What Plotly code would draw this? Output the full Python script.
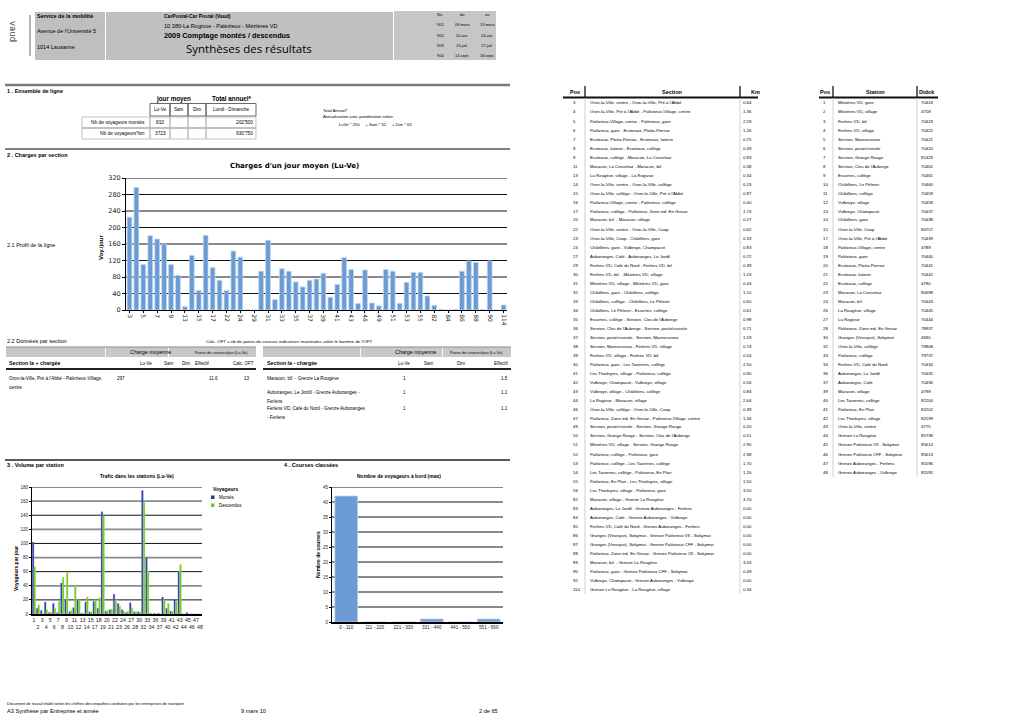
import plotly.graph_objects as go

W, H = 1020, 721
FONT = "Liberation Sans"

# ---------------- data ----------------
period_no = ["901", "902", "903", "904"]
period_from = ["09-mars", "20-avr.", "13-juil.", "14-sept."]
period_to = ["13-mars", "24-avr.", "17-juil.", "18-sept."]

section_pos = [3, 4, 5, 6, 7, 8, 9, 11, 13, 14, 15, 16, 17, 20, 22, 23, 24, 27, 29, 30,
               31, 32, 33, 34, 35, 36, 37, 38, 39, 40, 41, 42, 43, 44, 46, 47, 49, 50, 51, 52,
               53, 54, 55, 56, 82, 83, 84, 85, 86, 87, 88, 89, 90, 92, 114]
section_load = [225, 297, 110, 180, 172, 160, 110, 84, 8, 132, 47, 181, 103, 72, 47, 143, 128, 0, 0, 94,
                169, 25, 100, 94, 68, 56, 72, 75, 89, 31, 62, 127, 98, 16, 97, 17, 10, 98, 94, 16,
                67, 91, 91, 34, 11, 1, 0, 1, 94, 119, 115, 1, 119, 0, 12]
section_names = [
    "Oron-la-Ville, centre - Oron-la-Ville, Pré à l'Abbé",
    "Oron-la-Ville, Pré à l'Abbé - Palézieux-Village, centre",
    "Palézieux-Village, centre - Palézieux, gare",
    "Palézieux, gare - Ecoteaux, Platta-Pierraz",
    "Ecoteaux, Platta-Pierraz - Ecoteaux, laiterie",
    "Ecoteaux, laiterie - Ecoteaux, collège",
    "Ecoteaux, collège - Maracon, La Crosettaz",
    "Maracon, La Crosettaz - Maracon, bif.",
    "La Rougève, village - La Rogivue",
    "Oron-la-Ville, centre - Oron-la-Ville, collège",
    "Oron-la-Ville, collège - Oron-la-Ville, Pré à l'Abbé",
    "Palézieux-Village, centre - Palézieux, collège",
    "Palézieux, collège - Palézieux, Zone ind. En Grivaz",
    "Maracon, bif. - Maracon, village",
    "Oron-la-Ville, centre - Oron-la-Ville, Coop",
    "Oron-la-Ville, Coop - Châtillens, gare",
    "Châtillens, gare - Vulbroye, Champacot",
    "Auboranges, Café - Auboranges, Le Jordil",
    "Ferlens VD, Café du Nord - Ferlens VD, bif.",
    "Ferlens VD, bif. - Mézières VD, village",
    "Mézières VD, village - Mézières VD, gare",
    "Châtillens, gare - Châtillens, collège",
    "Châtillens, collège - Châtillens, Le Pèleret",
    "Châtillens, Le Pèleret - Essertes, collège",
    "Essertes, collège - Servion, Clos de l'Auberge",
    "Servion, Clos de l'Auberge - Servion, poste/croisée",
    "Servion, poste/croisée - Servion, Mannessivaz",
    "Servion, Mannessivaz - Ferlens VD, village",
    "Ferlens VD, village - Ferlens VD, bif.",
    "Palézieux, gare - Les Tavernes, collège",
    "Les Thioleyres, village - Palézieux, collège",
    "Vulbroye, Champacot - Vulbroye, village",
    "Vulbroye, village - Châtillens, collège",
    "La Rogivue - Maracon, village",
    "Oron-la-Ville, collège - Oron-la-Ville, Coop",
    "Palézieux, Zone ind. En Grivaz - Palézieux-Village, centre",
    "Servion, poste/croisée - Servion, Grange Rouge",
    "Servion, Grange Rouge - Servion, Clos de l'Auberge",
    "Mézières VD, village - Servion, Grange Rouge",
    "Palézieux, collège - Palézieux, gare",
    "Palézieux, collège - Les Tavernes, collège",
    "Les Tavernes, collège - Palézieux, En Plan",
    "Palézieux, En Plan - Les Thioleyres, village",
    "Les Thioleyres, village - Palézieux, gare",
    "Maracon, village - Grenze La Rougève",
    "Auboranges, Le Jordil - Grenze Auboranges - Ferlens",
    "Auboranges, Café - Grenze Auboranges - Vulbroye",
    "Ferlens VD, Café du Nord - Grenze Auboranges - Ferlens",
    "Granges (Veveyse), Sokymat - Grenze Palézieux VII - Sokymat",
    "Granges (Veveyse), Sokymat - Grenze Palézieux CFF - Sokymat",
    "Palézieux, Zone ind. En Grivaz - Grenze Palézieux VII - Sokymat",
    "Maracon, bif. - Grenze La Rougève",
    "Palézieux, gare - Grenze Palézieux CFF - Sokymat",
    "Vulbroye, Champacot - Grenze Auboranges - Vulbroye",
    "Grenze La Rougève - La Rougève, village",
]
section_km = ["0.64", "1.36", "2.59", "1.26", "0.75", "0.49", "0.83", "0.38", "0.34", "0.23",
              "0.87", "0.40", "1.74", "0.27", "0.62", "0.33", "0.83", "0.72", "0.39", "1.23",
              "0.43", "1.10", "0.60", "0.61", "0.98", "0.71", "1.19", "0.74", "0.54", "2.50",
              "0.90", "0.56", "0.84", "2.64", "0.39", "1.34", "0.20", "0.51", "2.90", "2.98",
              "1.70", "1.20", "1.50", "3.50", "3.70", "0.00", "0.00", "0.00", "0.00", "0.00",
              "0.00", "3.43", "0.49", "0.00", "0.34"]
load_ticks = [0, 40, 80, 120, 160, 200, 240, 280, 320]

station_pos = [1, 2, 3, 4, 5, 6, 7, 8, 9, 10, 11, 12, 13, 14, 15, 17, 18, 19, 20, 21, 22,
               23, 24, 26, 27, 28, 30, 32, 33, 34, 36, 37, 39, 40, 41, 42, 43, 44, 45, 46, 47, 48]
station_names = [
    "Mézières VD, gare", "Mézières VD, village", "Ferlens VD, bif.", "Ferlens VD, village",
    "Servion, Mannessivaz", "Servion, poste/croisée", "Servion, Grange Rouge",
    "Servion, Clos de l'Auberge", "Essertes, collège", "Châtillens, Le Pèleret",
    "Châtillens, collège", "Vulbroye, village", "Vulbroye, Champacot", "Châtillens, gare",
    "Oron-la-Ville, Coop", "Oron-la-Ville, Pré à l'Abbé", "Palézieux-Village, centre",
    "Palézieux, gare", "Ecoteaux, Platta-Pierraz", "Ecoteaux, laiterie", "Ecoteaux, collège",
    "Maracon, La Crosettaz", "Maracon, bif.", "La Rougève, village", "La Rogivue",
    "Palézieux, Zone ind. En Grivaz", "Granges (Veveyse), Sokymat", "Oron-la-Ville, collège",
    "Palézieux, collège", "Ferlens VD, Café du Nord", "Auboranges, Le Jordil",
    "Auboranges, Café", "Maracon, village", "Les Tavernes, collège", "Palézieux, En Plan",
    "Les Thioleyres, village", "Oron-la-Ville, centre", "Grenze La Rougève",
    "Grenze Palézieux VII - Sokymat", "Grenze Palézieux CFF - Sokymat",
    "Grenze Auboranges - Ferlens", "Grenze Auboranges - Vulbroye",
]
station_didok = [70424, 4758, 70423, 70422, 70421, 70420, 81429, 70462, 70461, 70460, 70459,
                 70458, 70437, 70438, 80757, 70439, 4789, 70440, 70441, 70442, 4790, 80698,
                 70443, 70445, 70444, 78937, 4690, 79808, 79737, 70434, 70435, 70436, 4799,
                 82200, 82202, 82199, 4775, 85738, 85614, 85613, 85596, 85595]
station_up = [102, 8, 5, 17, 2, 15, 2, 44, 21, 3, 9, 20, 1, 17, 3, 18, 8, 145, 4, 6, 28,
              15, 6, 2, 16, 3, 3, 175, 80, 1, 1, 1, 24, 8, 4, 21, 60, 0, 2, 0, 0, 0]
station_down = [67, 13, 1, 6, 3, 8, 18, 52, 59, 5, 41, 20, 1, 24, 3, 20, 23, 139, 5, 7, 20,
                11, 4, 4, 9, 4, 3, 158, 61, 0, 0, 0, 20, 15, 4, 18, 70, 0, 0, 0, 0, 0]
station_ticks = [0, 20, 40, 60, 80, 100, 120, 140, 160, 180]

courses_bins = ["0 - 110", "111 - 220", "221 - 330", "331 - 440", "441 - 550", "551 - 660"]
courses_count = [42, 0, 0, 1, 0, 1]
courses_ticks = [0, 5, 10, 15, 20, 25, 30, 35, 40, 45]

# ---------------- helpers ----------------
ann = []
shp = []


def px(x):
    return x / W


def py(y):
    return 1 - y / H


def txt(x, y, s, size=5, bold=False, anchor="left", color="#000", family=FONT, angle=0):
    ann.append(dict(x=px(x), y=py(y), xref="paper", yref="paper",
                    text=("<b>%s</b>" % s) if bold else s, showarrow=False,
                    xanchor=anchor, yanchor="middle", borderpad=0,
                    font=dict(size=size, color=color, family=family), textangle=angle))


def line(x0, y0, x1, y1, color="#000", width=1):
    shp.append(dict(type="line", xref="paper", yref="paper", x0=px(x0), y0=py(y0),
                    x1=px(x1), y1=py(y1), line=dict(color=color, width=width)))


def rect(x0, y0, x1, y1, fill="rgba(0,0,0,0)", color="rgba(0,0,0,0)", width=0):
    shp.append(dict(type="rect", xref="paper", yref="paper", x0=px(x0), y0=py(y0),
                    x1=px(x1), y1=py(y1), fillcolor=fill, line=dict(color=color, width=width),
                    layer="below"))


def grid(xref, yref, vals):
    for i, v in enumerate(vals[1:]):
        dark = (i % 2 == 0)
        shp.append(dict(type="line", xref=xref + " domain", yref=yref, x0=0, x1=1, y0=v, y1=v,
                        line=dict(color="#111" if dark else "#8a8a8a", width=1 if dark else 1.8),
                        layer="below"))


# ---------------- header ----------------
rect(35, 12, 105, 60, fill="#bfbfbf")
rect(106, 12, 393, 60, fill="#c0c0c0")
rect(394, 11, 496, 60, fill="#c6c6c6")
line(30, 15, 30, 56, "#444", 0.8)
txt(13, 31, "vaud", 8.5, color="#444", family="DejaVu Sans", angle=90, anchor="center")
txt(36, 16, "Service de la mobilité", 5.5, bold=True)
txt(36, 31, "Avenue de l'Université 5", 5.5)
txt(36, 47, "1014 Lausanne", 5.5)
txt(163, 16, "CarPostal-Car Postal (Vaud)", 5, bold=True)
txt(163, 26, "10.380-La Rogivue - Palézieux - Mézières VD", 5.6)
txt(163, 36, "2009 Comptage montés / descendus", 7.3, bold=True)
txt(249, 49, "Synthèses des résultats", 11.5, anchor="center", family="Open Sans")
txt(440, 15, "No", 4, anchor="center")
txt(462, 15, "du", 4, anchor="center")
txt(487, 15, "au", 4, anchor="center")
for i, (a, b, c) in enumerate(zip(period_no, period_from, period_to)):
    yy = 25 + 10.3 * i
    txt(440, yy, a, 4, anchor="center")
    txt(462, yy, b, 4, anchor="center")
    txt(487, yy, c, 4, anchor="center")

# ---------------- section 1 ----------------
line(5, 85, 510, 85, "#7a7a7a", 2.5)
txt(6, 91, "1 . Ensemble de ligne", 5.5, bold=True)
txt(173, 99, "jour moyen", 6.3, bold=True, anchor="center")
txt(232, 99, "Total annuel*", 6.3, bold=True, anchor="center")
for (a, b) in [(150, 170), (170, 188), (188, 206), (206, 256)]:
    rect(a, 103.5, b, 116, color="#444", width=0.8)
for yy0, yy1 in [(117, 127.5), (128.5, 139)]:
    for (a, b) in [(82, 150), (150, 170), (170, 188), (188, 206), (206, 256)]:
        rect(a, yy0, b, yy1, color="#b0b0b0", width=0.8)
txt(160, 110, "Lu-Ve", 4.6, anchor="center")
txt(179, 110, "Sam", 4.6, anchor="center")
txt(197, 110, "Dim", 4.6, anchor="center")
txt(231, 110, "Lundi - Dimanche", 4.6, anchor="center")
txt(146, 122, "Nb de voyageurs montés", 4.8, anchor="right")
txt(146, 133.5, "Nb de voyageurs*km", 4.8, anchor="right")
txt(160, 122, "810", 4.8, anchor="center")
txt(160, 133.5, "3723", 4.8, anchor="center")
txt(254, 122, "202'500", 4.8, anchor="right")
txt(254, 133.5, "930'750", 4.8, anchor="right")
txt(322, 111, "Total Annuel*", 4.2)
txt(322, 116.5, "Annualisation avec pondération selon:", 4.2)
txt(338, 124, "LuVe * 250     + Sam * 52     + Dim * 63", 4.2)

# ---------------- section 2 ----------------
line(5, 149, 510, 149, "#000", 1)
txt(6, 155, "2 . Charges par section", 5.5, bold=True)
txt(294, 166, "Charges d'un jour moyen (Lu-Ve)", 7, bold=True, anchor="center", family="DejaVu Sans")
txt(6, 245, "2.1 Profil de la ligne", 5.5)
txt(101, 248, "Voy./jour", 6, bold=True, angle=-90, anchor="center")

txt(6, 341, "2.2 Données par section", 5.5)
txt(205, 341, "Calc. OFT = nb de paires de courses indicatives maximales selon le barème de l'OFT", 4.4)
# left table
rect(6, 347, 105, 357, fill="#c8c8c8")
rect(105.8, 347, 168, 357, fill="#c8c8c8")
rect(168.8, 347, 256, 357, fill="#c8c8c8")
line(6, 347, 256, 347, "#8c8c8c", 1)
txt(150, 352, "Charge moyenne", 5.4, anchor="center")
txt(221, 352, "Paires de courses/jour (Lu-Ve)", 3.9, anchor="center")
txt(8, 363, "Section la + chargée", 5.3, bold=True)
txt(146, 363, "Lu-Ve", 4.5, anchor="center")
txt(169, 363, "Sam", 4.5, anchor="center")
txt(186, 363, "Dim", 4.5, anchor="center")
txt(202, 363, "Effectif", 4.5, anchor="center")
txt(243, 363, "Calc. OFT", 4.5, anchor="center")
line(6, 369, 256, 369, "#222", 2)
txt(8, 378, "Oron-la-Ville, Pré à l'Abbé - Palézieux-Village,", 4.6)
txt(8, 387, "centre", 4.6)
txt(121, 378, "297", 4.6, anchor="center")
txt(213, 378, "11.6", 4.6, anchor="center")
txt(247, 378, "13", 4.6, anchor="center")
# right table
rect(263, 347, 360, 357, fill="#c8c8c8")
rect(360.8, 347, 442, 357, fill="#c8c8c8")
rect(442.8, 347, 511, 357, fill="#c8c8c8")
line(263, 347, 511, 347, "#8c8c8c", 1)
txt(415, 352, "Charge moyenne", 5.4, anchor="center")
txt(476, 352, "Paires de courses/jour (Lu-Ve)", 3.9, anchor="center")
txt(266, 363, "Section la - chargée", 5.3, bold=True)
txt(404, 363, "Lu-Ve", 4.5, anchor="center")
txt(429, 363, "Sam", 4.5, anchor="center")
txt(461, 363, "Dim", 4.5, anchor="center")
txt(509, 363, "Effectif", 4.5, anchor="right")
line(263, 369, 511, 369, "#222", 2)
txt(266, 378, "Maracon, bif. - Grenze La Rougève", 4.6)
txt(404, 378, "1", 4.6, anchor="center")
txt(509, 378, "1.5", 4.6, anchor="right")
txt(266, 392, "Auboranges, Le Jordil - Grenze Auboranges -", 4.6)
txt(266, 401, "Ferlens", 4.6)
txt(404, 392, "1", 4.6, anchor="center")
txt(509, 392, "1.1", 4.6, anchor="right")
txt(266, 408, "Ferlens VD, Café du Nord - Grenze Auboranges", 4.6)
txt(266, 417, "- Ferlens", 4.6)
txt(404, 408, "1", 4.6, anchor="center")
txt(509, 408, "1.1", 4.6, anchor="right")

# ---------------- section 3 / 4 ----------------
line(5, 460, 510, 460, "#222", 1.3)
txt(6, 465, "3 . Volume par station", 5.5, bold=True)
txt(283, 465, "4 . Courses classées", 5.5, bold=True)
txt(137, 476, "Trafic dans les stations (Lu-Ve)", 5, bold=True, anchor="center")
txt(399, 476, "Nombre de voyageurs à bord (max)", 5, bold=True, anchor="center")
txt(16, 569, "Voyageurs par jour", 5, bold=True, angle=-90, anchor="center")
txt(318, 555, "Nombre de courses", 5, bold=True, angle=-90, anchor="center")
# legend of station chart
txt(212, 489, "Voyageurs", 5, bold=True)
rect(211, 495.5, 214.5, 499, fill="#2f3296")
txt(218, 497, "Montés", 4.5)
rect(211, 503.5, 214.5, 507, fill="#66cc22")
txt(218, 505, "Descendus", 4.5)

# ---------------- right tables ----------------
txt(575, 92, "Pos", 5.5, bold=True, anchor="center")
txt(672, 92, "Section", 5.5, bold=True, anchor="center")
txt(755, 92, "Km", 5.5, bold=True, anchor="center")
line(563, 97.5, 758, 97.5, "#111", 1.8)
line(585, 86, 585, 97, "#111", 1.3)
line(740, 86, 740, 97, "#111", 1.3)
line(585, 98, 585, 594, "#c4c4c4", 0.8)
line(740, 98, 740, 594, "#c4c4c4", 0.8)
for i, (p, n, k) in enumerate(zip(section_pos, section_names, section_km)):
    yy = 103 + 9 * i
    txt(572, yy, str(p), 4.3)
    txt(589, yy, n, 4.3)
    txt(742, yy, k, 4.3)

txt(825, 92, "Pos", 5.5, bold=True, anchor="center")
txt(875, 92, "Station", 5.5, bold=True, anchor="center")
txt(927, 92, "Didok", 5.5, bold=True, anchor="center")
line(819, 97.5, 938, 97.5, "#111", 1.8)
line(833, 86, 833, 97, "#111", 1.3)
line(917, 86, 917, 97, "#111", 1.3)
line(833, 98, 833, 477, "#c4c4c4", 0.8)
line(917, 98, 917, 477, "#c4c4c4", 0.8)
for i, (p, n, d) in enumerate(zip(station_pos, station_names, station_didok)):
    yy = 103 + 9 * i
    txt(822, yy, str(p), 4.3)
    txt(837, yy, n, 4.3)
    txt(920, yy, str(d), 4.3)

# ---------------- footer ----------------
txt(6, 703, "Document de travail établi selon les chiffres des enquêtes conduites par les entreprises de transport", 4)
txt(6, 711, "A3 Synthèse par Entreprise et année", 5.6)
txt(240, 711, "9 mars 10", 5.6)
txt(478, 711, "2 de 65", 5.6)

# ---------------- charts ----------------
fig = go.Figure()
sec_cats = [str(p) for p in section_pos]
fig.add_trace(go.Bar(x=sec_cats, y=section_load, xaxis="x", yaxis="y", width=0.68,
                     marker=dict(color="#6b9bd2", line=dict(color="#b9d3f0", width=0.8)),
                     showlegend=False, hoverinfo="skip"))
st_cats = [str(p) for p in station_pos]
fig.add_trace(go.Bar(x=st_cats, y=station_up, name="Montés", xaxis="x2", yaxis="y2",
                     width=0.42, offset=-0.44,
                     marker=dict(color="#2f3296", line=dict(color="#8e90e0", width=0.4)),
                     showlegend=False, hoverinfo="skip"))
fig.add_trace(go.Bar(x=st_cats, y=station_down, name="Descendus", xaxis="x2", yaxis="y2",
                     width=0.42, offset=-0.02,
                     marker=dict(color="#66cc22", line=dict(color="#a8e67c", width=0.4)),
                     showlegend=False, hoverinfo="skip"))
fig.add_trace(go.Bar(x=courses_bins, y=courses_count, xaxis="x3", yaxis="y3", width=0.8,
                     marker=dict(color="#6b9bd2", line=dict(color="#b9d3f0", width=0.8)),
                     showlegend=False, hoverinfo="skip"))

grid("x", "y", load_ticks)
grid("x2", "y2", station_ticks)
grid("x3", "y3", courses_ticks)

common = dict(automargin=False, showgrid=False, zeroline=False, fixedrange=True,
              showline=True, linecolor="#000", linewidth=1)

fig.update_layout(
    width=W, height=H, margin=dict(l=0, r=0, t=0, b=0),
    paper_bgcolor="white", plot_bgcolor="rgba(0,0,0,0)",
    barmode="group", showlegend=False,
    xaxis=dict(common, domain=[px(126), px(507)], anchor="y", type="category",
               tickmode="array", tickvals=sec_cats[::2], ticktext=sec_cats[::2], tickangle=90,
               tickfont=dict(family="DejaVu Sans", size=6, color="#222"),
               ticks="outside", ticklen=2, tickcolor="#000", range=[-0.5, len(sec_cats) - 0.5]),
    yaxis=dict(common, domain=[py(310), py(178)], anchor="x", range=[0, 320],
               tickmode="array", tickvals=load_ticks,
               tickfont=dict(family="DejaVu Sans", size=6.5, color="#222"),
               ticks="outside", ticklen=3, tickcolor="#000"),
    xaxis2=dict(common, domain=[px(32), px(202)], anchor="y2", type="category",
                tickmode="array", tickvals=st_cats,
                ticktext=[c if i % 2 == 0 else "<br>" + c for i, c in enumerate(st_cats)],
                tickangle=0, tickfont=dict(family=FONT, size=5.3, color="#222"),
                range=[-0.5, len(st_cats) - 0.5], linewidth=1.5),
    yaxis2=dict(common, domain=[py(614), py(487)], anchor="x2", range=[0, 180],
                tickmode="array", tickvals=station_ticks,
                tickfont=dict(family=FONT, size=4.5, color="#222"),
                ticks="outside", ticklen=2, tickcolor="#000"),
    xaxis3=dict(common, domain=[px(332), px(503)], anchor="y3", type="category",
                tickfont=dict(family=FONT, size=4.6, color="#222"),
                range=[-0.5, len(courses_bins) - 0.5], linewidth=1.5),
    yaxis3=dict(common, domain=[py(622), py(487)], anchor="x3", range=[0, 45],
                tickmode="array", tickvals=courses_ticks,
                tickfont=dict(family=FONT, size=4.5, color="#222"),
                ticks="outside", ticklen=2, tickcolor="#000"),
    annotations=ann, shapes=shp,
)

fig.write_html("out.html")
